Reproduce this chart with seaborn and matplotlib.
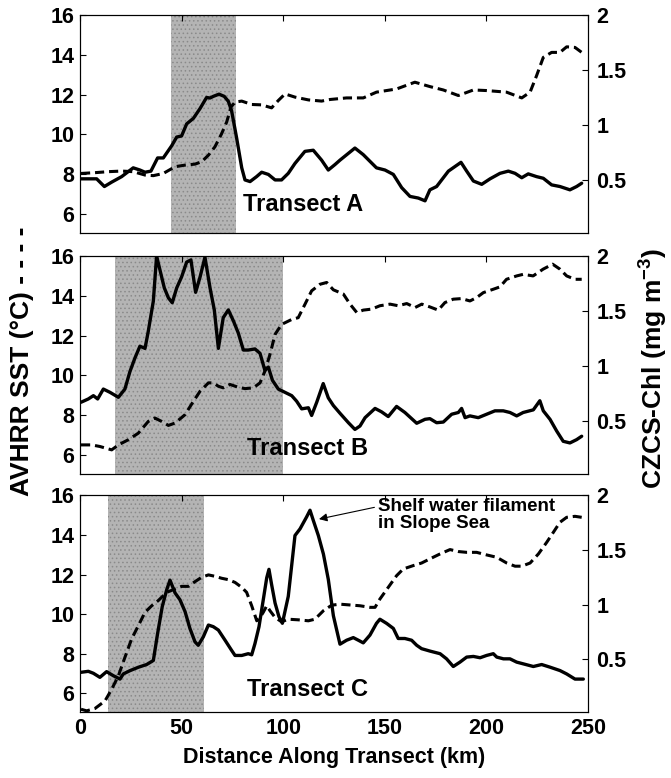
import numpy as np
import pandas as pd
import matplotlib
matplotlib.use("Agg")
import matplotlib.pyplot as plt
from matplotlib import font_manager
import seaborn as sns


# values (km along transect)
a_sst_km = [0.5, 7.4, 13.9, 20.5, 26.2, 32.0, 36.1, 41.0, 46.8, 51.7, 56.6, 59.9, 63.2, 66.4, 69.7,
            72.2, 74.3, 76.3, 79.6, 84.5, 89.4, 94.3, 97.6, 100.9, 105.8, 112.4, 118.9, 123.0, 131.2,
            139.4, 145.9, 155.8, 164.8, 172.2, 178.8, 186.2, 193.6, 200.1, 209.9, 217.4, 221.5, 224.7,
            228.0, 232.1, 236.2, 239.5, 243.6, 246.9]
a_sst = [8.03, 8.07, 8.12, 8.15, 8.12, 7.95, 7.92, 8.03, 8.37, 8.45, 8.5, 8.62, 8.95, 9.37, 10.03,
         10.62, 11.37, 11.62, 11.67, 11.5, 11.48, 11.33, 11.7, 12.03, 11.87, 11.73, 11.67, 11.75, 11.83,
         11.83, 12.12, 12.28, 12.62, 12.4, 12.23, 11.95, 12.23, 12.2, 12.12, 11.83, 12.12, 12.95,
         13.87, 14.12, 14.12, 14.4, 14.37, 14.12]
a_chl_km = [0.5, 8.2, 12.0, 15.6, 20.5, 26.2, 29.5, 32.0, 34.9, 38.2, 41.0, 45.1, 47.6, 50.0, 52.5,
            55.8, 59.1, 62.3, 64.0, 65.6, 68.4, 71.0, 73.0, 74.6, 77.1, 79.6, 81.2, 83.7, 86.9, 89.4,
            92.7, 96.0, 99.2, 102.5, 105.8, 110.7, 114.8, 118.9, 122.2, 125.5, 127.95, 135.3, 139.4,
            145.9, 150.1, 154.2, 158.3, 162.4, 166.5, 169.8, 172.2, 175.5, 181.3, 187.5, 190.3, 193.6,
            197.7, 201.8, 206.7, 210.8, 214.1, 217.4, 220.6, 224.7, 228.0, 232.1, 236.2, 241.1, 244.4,
            246.9]
a_chl = [0.51, 0.51, 0.44, 0.48, 0.53, 0.61, 0.59, 0.57, 0.58, 0.70, 0.70, 0.81, 0.89, 0.90, 1.01,
         1.06, 1.15, 1.25, 1.245, 1.26, 1.28, 1.26, 1.215, 1.13, 0.88, 0.61, 0.50, 0.485, 0.53, 0.57,
         0.55, 0.50, 0.50, 0.56, 0.65, 0.76, 0.77, 0.68, 0.59, 0.64, 0.68, 0.79, 0.73,
         0.61, 0.59, 0.55, 0.43, 0.35, 0.335, 0.31, 0.41, 0.44, 0.58, 0.66, 0.58, 0.49,
         0.46, 0.51, 0.56, 0.58, 0.56, 0.52, 0.555, 0.53, 0.515, 0.455, 0.44, 0.41, 0.44,
         0.47]

b_sst_km = [0.5, 5.7, 9.8, 15.6, 18.9, 23.8, 28.7, 33.6, 36.9, 40.2, 43.5, 46.8, 51.7, 55.8, 59.1,
            63.2, 65.6, 68.1, 70.5, 73.8, 77.9, 81.2, 85.3, 88.6, 91.0, 93.5, 96.0, 99.2, 104.2, 107.4,
            110.7, 114.0, 118.1, 121.4, 124.7, 129.6, 132.9, 136.2, 139.4, 143.5, 147.6, 152.6, 156.6,
            160.8, 164.9, 168.2, 172.2, 176.3, 179.6, 183.7, 187.8, 191.9, 195.2, 198.5, 203.4, 206.7,
            209.9, 214.9, 218.1, 223.0, 227.9, 232.6, 236.2, 239.5, 243.6, 246.9]
b_sst = [6.5, 6.5, 6.42, 6.25, 6.5, 6.76, 7.09, 7.68, 7.85, 7.68, 7.48, 7.6, 8.02, 8.69, 9.2,
         9.62, 9.62, 9.45, 9.37, 9.54, 9.4, 9.33, 9.37, 9.62, 10.21, 11.05, 12.06, 12.56, 12.81, 12.9,
         13.57, 14.25, 14.58, 14.67, 14.3, 14.09, 13.58, 13.16, 13.28, 13.33, 13.5, 13.58, 13.5,
         13.61, 13.41, 13.58, 13.44, 13.28, 13.66, 13.83, 13.86, 13.74, 13.91, 14.16, 14.33, 14.45,
         14.83, 15.0, 15.08, 15.0, 15.34, 15.59, 15.34, 15.0, 14.83, 14.83]
b_chl_km = [0.5, 4.1, 6.6, 8.7, 11.5, 14.8, 18.9, 22.1, 24.6, 27.1, 29.5, 32.0, 33.6, 36.1, 37.7,
            39.4, 41.5, 43.5, 45.4, 47.6, 50.0, 52.5, 54.6, 56.9, 59.1, 61.5, 64.0, 66.1, 68.1, 70.5,
            73.0, 75.5, 77.9, 80.4, 82.8, 86.1, 88.6, 91.0, 92.7, 94.7, 97.6, 100.9, 104.2, 106.6, 109.1,
            112.4, 114.0, 116.5, 119.7, 122.2, 124.7, 127.95, 132.1, 135.3, 137.8, 140.3, 145.2, 148.4,
            151.7, 155.8, 159.9, 165.7, 169.8, 172.2, 175.5, 178.8, 182.9, 186.2, 187.8, 189.5, 191.9,
            196.0, 200.1, 204.2, 208.3, 211.6, 214.9, 218.1, 223.1, 226.3, 228.0, 231.3, 234.6, 237.8,
            241.1, 244.4, 246.9]
b_chl = [0.67, 0.70, 0.73, 0.70, 0.79, 0.76, 0.715, 0.79, 0.95, 1.075, 1.18, 1.16, 1.315, 1.59, 2.0,
         1.87, 1.71, 1.62, 1.575, 1.71, 1.81, 1.945, 1.965, 1.67, 1.81, 1.99, 1.71, 1.51, 1.16, 1.44,
         1.51, 1.41, 1.30, 1.145, 1.145, 1.155, 1.115, 0.96, 0.99, 0.87, 0.79, 0.76, 0.73, 0.68, 0.61,
         0.62, 0.55, 0.67, 0.84, 0.71, 0.64, 0.57, 0.484, 0.423, 0.454, 0.53, 0.614, 0.583,
         0.54, 0.632, 0.577, 0.479, 0.515, 0.521, 0.484, 0.49, 0.561, 0.577, 0.614, 0.53, 0.546,
         0.53, 0.561, 0.592, 0.592, 0.577, 0.546, 0.577, 0.601, 0.684, 0.592, 0.515, 0.408, 0.315,
         0.30, 0.33, 0.361]

c_sst_km = [0.5, 3.3, 7.4, 12.3, 15.6, 18.9, 22.1, 25.4, 28.7, 32.0, 35.3, 38.5, 42.7, 46.8, 50.0,
            53.3, 56.6, 59.9, 63.2, 66.4, 69.7, 73.0, 76.3, 79.6, 82.0, 84.5, 87.0, 88.6, 90.2, 91.9,
            93.5, 96.0, 99.2, 102.5, 107.4, 112.4, 115.6, 119.8, 123.9, 127.95, 132.9, 137.8, 142.7,
            145.2, 147.6, 151.7, 155.8, 159.1, 164.0, 168.1, 172.2, 177.2, 182.1, 186.2, 190.3, 195.2,
            200.1, 205.1, 210.0, 214.1, 217.4, 221.5, 225.6, 229.7, 233.0, 236.2, 239.5, 243.6, 246.9]
c_sst = [5.19, 5.11, 5.23, 5.61, 6.2, 6.88, 7.81, 8.74, 9.41, 10.09, 10.42, 10.68, 11.1, 11.27, 11.4,
         11.4, 11.64, 11.86, 11.98, 11.91, 11.81, 11.74, 11.6, 11.35, 11.1, 10.42, 9.66, 9.83, 10.09,
         10.42, 10.17, 9.83, 9.61, 9.74, 9.71, 9.66, 9.74, 10.17, 10.45, 10.5, 10.46, 10.42, 10.34,
         10.34, 10.76, 11.35, 11.94, 12.28, 12.45, 12.58, 12.79, 13.04, 13.26, 13.16, 13.12, 13.12,
         12.99, 12.87, 12.58, 12.42, 12.42, 12.58, 13.04, 13.63, 14.14, 14.64, 14.89, 14.94, 14.89]
c_chl_km = [0.5, 4.1, 6.6, 9.8, 13.1, 16.4, 19.7, 21.3, 24.6, 28.7, 32.8, 36.1, 38.2, 40.5, 42.7,
            44.3, 46.8, 49.2, 51.7, 54.1, 56.6, 58.2, 60.7, 63.2, 65.6, 68.1, 71.4, 74.6, 76.3, 79.6,
            82.8, 84.5, 86.1, 88.1, 90.2, 91.9, 93.0, 94.3, 96.0, 97.9, 99.6, 102.5, 105.8, 108.3, 111.5,
            113.2, 114.8, 117.3, 119.8, 122.2, 124.7, 127.95, 131.2, 134.5, 137.0, 139.4, 142.7, 145.9,
            147.6, 150.9, 154.2, 156.6, 159.9, 163.2, 165.7, 168.1, 172.2, 177.2, 180.4, 183.7, 187.0,
            190.3, 193.6, 196.9, 200.1, 203.4, 205.1, 208.4, 211.6, 214.9, 218.2, 223.1, 227.2, 231.3,
            236.2, 239.5, 243.6, 247.7]
c_chl = [0.383, 0.392, 0.374, 0.337, 0.389, 0.352, 0.321, 0.368, 0.398, 0.429, 0.454, 0.491, 0.738,
         0.985, 1.139, 1.225, 1.108, 1.046, 0.938, 0.784, 0.661, 0.63, 0.707, 0.815, 0.80, 0.769,
         0.676, 0.584, 0.537, 0.537, 0.553, 0.543, 0.645, 0.80, 1.046, 1.247, 1.324, 1.185, 1.016,
         0.892, 0.831, 1.077, 1.633, 1.694, 1.802, 1.864, 1.772, 1.633, 1.463, 1.232, 0.90, 0.64,
         0.676, 0.70, 0.676, 0.652, 0.723, 0.83, 0.868, 0.83, 0.784, 0.692, 0.692, 0.676, 0.63,
         0.599, 0.577, 0.553, 0.506, 0.436, 0.476, 0.522, 0.528, 0.516, 0.537, 0.553, 0.522, 0.506,
         0.506, 0.476, 0.46, 0.436, 0.454, 0.43, 0.399, 0.368, 0.321, 0.321]

# shaded stretch of each transect (km)
shade_a = (45, 77)
shade_b = (17, 100)
shade_c = (14, 61)

transect_names = ["Transect A", "Transect B", "Transect C"]
sst_ticks = [6, 8, 10, 12, 14, 16]
chl_ticks = [0.5, 1, 1.5, 2]
chl_ticklabels = ["0.5", "1", "1.5", "2"]
km_ticks = [0, 50, 100, 150, 200, 250]


sns.set_style("white")
installed = {f.name for f in font_manager.fontManager.ttflist}
main_font = "Liberation Sans" if "Liberation Sans" in installed else "DejaVu Sans"
plt.rcParams["font.family"] = [main_font, "DejaVu Sans"]
plt.rcParams["font.weight"] = "bold"
plt.rcParams["mathtext.fontset"] = "custom"
plt.rcParams["mathtext.rm"] = main_font + ":bold"
plt.rcParams["mathtext.bf"] = main_font + ":bold"
plt.rcParams["hatch.linewidth"] = 0.6
for key in ["text.color", "axes.labelcolor", "xtick.color", "ytick.color", "axes.edgecolor"]:
    plt.rcParams[key] = "black"

fig = plt.figure(figsize=(6.71, 7.78), dpi=100)

rects = [
    [0.1192, 0.7009, 0.7571, 0.2798],
    [0.1192, 0.3911, 0.7571, 0.2798],
    [0.1192, 0.0848, 0.7571, 0.2785],
]
panels = [
    (a_sst_km, a_sst, a_chl_km, a_chl, shade_a, (80.3, 6.45)),
    (b_sst_km, b_sst, b_chl_km, b_chl, shade_b, (82.0, 6.33)),
    (c_sst_km, c_sst, c_chl_km, c_chl, shade_c, (82.0, 6.2)),
]

tick_fs = 15.5
for i, (sx, sy, cx, cy, shade, lab_pos) in enumerate(panels):
    ax = fig.add_axes(rects[i])
    ax.axvspan(shade[0], shade[1], facecolor="#b4b4b4", edgecolor="#8a8a8a",
               hatch="....", linewidth=0, zorder=0)
    sns.lineplot(x=sx, y=sy, ax=ax, color="k", lw=2.2, linestyle=(0, (3.0, 1.6)),
                 estimator=None, sort=False)
    ax.set_xlim(0, 250)
    ax.set_ylim(5.05, 16)
    ax.set_yticks(sst_ticks)
    ax.set_xticks(km_ticks)
    ax.tick_params(direction="in", top=True, right=False, length=4, width=0.8,
                   labelsize=tick_fs, pad=4)
    if i < 2:
        ax.set_xticklabels([])
    ax.text(lab_pos[0], lab_pos[1], transect_names[i], fontsize=17, fontweight="bold",
            ha="left", va="center")

    ax2 = ax.twinx()
    sns.lineplot(x=cx, y=cy, ax=ax2, color="k", lw=2.4, estimator=None, sort=False)
    ax2.set_ylim(0.02, 2.0)
    ax2.set_yticks(chl_ticks)
    ax2.set_yticklabels(chl_ticklabels)
    ax2.tick_params(direction="in", length=4, width=0.8, labelsize=tick_fs, pad=6)
    for a in (ax, ax2):
        for sp in a.spines.values():
            sp.set_linewidth(0.8)
            sp.set_color("k")
    ax.set_xlabel("")
    ax.set_ylabel("")
    ax2.set_ylabel("")

    if i == 2:
        ax.set_xlabel("Distance Along Transect (km)", fontsize=15.5, fontweight="bold",
                      labelpad=6)
        ax.annotate("Shelf water filament\nin Slope Sea", xy=(117.6, 14.8), xytext=(146.5, 15.85),
                    fontsize=13.5, fontweight="bold", ha="left", va="top", linespacing=0.95,
                    arrowprops=dict(arrowstyle="-|>", color="k", lw=0.8, mutation_scale=12,
                                    shrinkA=0, shrinkB=0, relpos=(0.0, 0.75)))

fig.text(0.033, 0.535, "AVHRR SST (°C) - - - -", rotation=90, fontsize=19,
         fontweight="bold", ha="center", va="center")
fig.text(0.972, 0.527, "CZCS-Chl (mg m$^{-3}$)", rotation=90, fontsize=19,
         fontweight="bold", ha="center", va="center")

fig.savefig("out.png", dpi=100)
